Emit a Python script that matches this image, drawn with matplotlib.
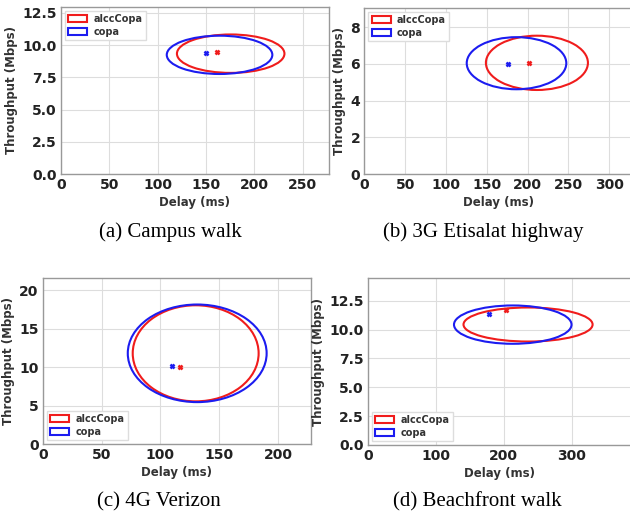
"""Delay/throughput ellipses for alccCopa vs copa on four traces."""

import matplotlib

matplotlib.use("Agg")
import matplotlib.pyplot as plt
from matplotlib.patches import Ellipse

W, H = 630, 515

CAPTIONS = ["(a) Campus walk", "(b) 3G Etisalat highway", "(c) 4G Verizon", "(d) Beachfront walk"]
SCHEMES = ["alccCopa", "copa"]
COLORS = {"alccCopa": "#f01c1c", "copa": "#1c1cf0"}

# ellipse centre (delay ms, tput Mbps), width (ms), height (Mbps) per panel and scheme
ELL_CX = {"alccCopa": [175.5, 211.5, 130.0, 236.0], "copa": [164.0, 186.5, 131.3, 213.5]}
ELL_CY = {"alccCopa": [9.33, 6.06, 11.8, 10.44], "copa": [9.24, 6.04, 11.8, 10.43]}
ELL_W = {"alccCopa": [111, 125, 107, 190], "copa": [109, 122, 118, 173]}
ELL_H = {"alccCopa": [2.98, 2.96, 12.5, 2.95], "copa": [2.97, 2.84, 12.7, 3.32]}

# median points
MED_X = {"alccCopa": [161, 202, 116.5, 203], "copa": [150.5, 176, 110, 178]}
MED_Y = {"alccCopa": [9.45, 6.03, 9.96, 11.72], "copa": [9.37, 5.97, 10.18, 11.35]}

XLIM = [(0, 277), (0, 328), (0, 228), (0, 389)]
YLIM = [(0, 12.95), (0, 9.05), (0, 21.6), (0, 14.47)]
XTICKS = [[0, 50, 100, 150, 200, 250], [0, 50, 100, 150, 200, 250, 300],
          [0, 50, 100, 150, 200], [0, 100, 200, 300]]
YTICKS = [[0, 2.5, 5, 7.5, 10, 12.5], [0, 2, 4, 6, 8], [0, 5, 10, 15, 20],
          [0, 2.5, 5, 7.5, 10, 12.5]]
YFMT = ["{:.1f}", "{:.0f}", "{:.0f}", "{:.1f}"]
LEG_LOC = ["upper left", "upper left", "lower left", "lower left"]

# axes boxes in pixels: left, top, right, bottom
BOXES = [(60.7, 7, 329, 174), (364.3, 8, 632, 174), (42.7, 278, 311, 444), (367.7, 278, 632, 445)]
CAP_POS = [(170, 232), (483, 232), (159, 502), (477, 502)]

plt.rcParams.update({"font.family": "DejaVu Sans", "font.weight": "bold"})

fig = plt.figure(figsize=(W / 100, H / 100), dpi=100)

for i, (l, t, r, b) in enumerate(BOXES):
    ax = fig.add_axes([l / W, 1 - b / H, (r - l) / W, (b - t) / H])
    for s in SCHEMES:
        ax.add_patch(Ellipse((ELL_CX[s][i], ELL_CY[s][i]), ELL_W[s][i], ELL_H[s][i],
                             fill=False, ec=COLORS[s], lw=1.5, label=s, zorder=3))
        ax.plot(MED_X[s][i], MED_Y[s][i], marker="x", color=COLORS[s], ms=3.5,
                mew=1.8, zorder=4)
    ax.set_xlim(*XLIM[i])
    ax.set_ylim(*YLIM[i])
    ax.set_xticks(XTICKS[i])
    ax.set_yticks(YTICKS[i])
    ax.set_yticklabels([YFMT[i].format(v) for v in YTICKS[i]])
    ax.tick_params(labelsize=10, length=0, pad=3, colors="#222222")
    for lab in ax.get_xticklabels() + ax.get_yticklabels():
        lab.set_fontweight("bold")
    ax.set_xlabel("Delay (ms)", fontsize=8.5, fontweight="bold", color="#333333", labelpad=3)
    ax.set_ylabel("Throughput (Mbps)", fontsize=8.5, fontweight="bold", color="#333333", labelpad=3)
    ax.grid(color="#dddddd", lw=0.8, zorder=0)
    ax.set_axisbelow(True)
    for sp in ax.spines.values():
        sp.set_color("#999999")
        sp.set_linewidth(1.0)
    leg = ax.legend(loc=LEG_LOC[i], prop={"size": 7, "weight": "bold"},
                    handlelength=2.0, handleheight=0.75, borderpad=0.35,
                    labelspacing=0.25, handletextpad=0.6, borderaxespad=0.4,
                    framealpha=1, edgecolor="#dddddd", fancybox=False)
    for txt in leg.get_texts():
        txt.set_color("#333333")
    cx, cy = CAP_POS[i]
    fig.text(cx / W, 1 - cy / H, CAPTIONS[i], ha="center", va="center",
             fontsize=15, family="Liberation Serif", fontweight="normal")

fig.savefig("out.png", dpi=100)
